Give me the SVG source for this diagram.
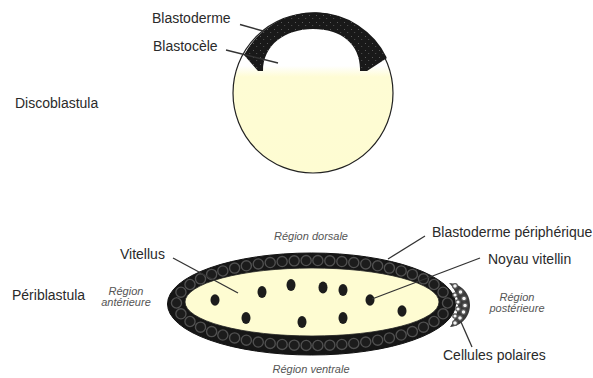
<svg xmlns="http://www.w3.org/2000/svg" width="593" height="378" viewBox="0 0 593 378">
  <defs>
    <style>
      .lbl { font-family: "Liberation Sans", Arial, sans-serif; font-size: 14px; fill: #2a2a2a; }
      .reg { font-family: "Liberation Sans", Arial, sans-serif; font-size: 11px; font-style: italic; fill: #555; }
      .lead { stroke: #333; stroke-width: 1.3; fill: none; }
      .nuc { fill: #1c1c1c; }
      .pole { fill: #f4f4f4; stroke: #555; stroke-width: 1.2; }
    </style>
    <!-- speckled texture for the blastoderm cap -->
    <pattern id="speck" width="7" height="7" patternUnits="userSpaceOnUse">
      <rect width="7" height="7" fill="#191919"/>
      <rect x="1" y="1" width="1" height="1" fill="#5a5a5a"/>
      <rect x="4" y="4" width="1.2" height="1" fill="#4a4a4a"/>
    </pattern>
    <!-- yolk below the blastocoel cavity -->
    <linearGradient id="yolk" x1="0" y1="13" x2="0" y2="173" gradientUnits="userSpaceOnUse">
      <stop offset="0" stop-color="#ffffff"/>
      <stop offset="0.33" stop-color="#ffffff"/>
      <stop offset="0.4" stop-color="#fefcd4"/>
      <stop offset="1" stop-color="#fefcd2"/>
    </linearGradient>
  </defs>

  <rect width="593" height="378" fill="#ffffff"/>

  <!-- Discoblastula -->
  <g id="discoblastula">
    <circle cx="313" cy="93" r="80" fill="url(#yolk)" stroke="#222" stroke-width="1.2"/>
    <path d="M 258,71 L 244,55 A 80 80 0 0 1 387,58 L 367,71 L 360,71 C 361,45 342,29 313,29 C 285,29 263,45 263,71 Z" fill="url(#speck)"/>
  </g>

  <!-- Periblastula -->
  <g id="periblastula">
    <ellipse cx="311.5" cy="304" rx="144" ry="51" fill="#161616" stroke="#111" stroke-width="1"/>
    <!-- ring of peripheral blastoderm cells -->
    <path d="M 176.5,303 A 135.5 42.5 0 1 1 447.5,303 A 135.5 42.5 0 1 1 176.5,303 Z" pathLength="600" fill="none" stroke="#505050" stroke-width="11.5" stroke-linecap="round" stroke-dasharray="0 12"/>
    <path d="M 176.5,303 A 135.5 42.5 0 1 1 447.5,303 A 135.5 42.5 0 1 1 176.5,303 Z" pathLength="600" fill="none" stroke="#1c1c1c" stroke-width="8.8" stroke-linecap="round" stroke-dasharray="0 12"/>
    <ellipse cx="312" cy="302" rx="127" ry="34" fill="#fefcd2" stroke="#222" stroke-width="0.8"/>
    <!-- yolk nuclei -->
    <ellipse class="nuc" cx="215" cy="300" rx="4.5" ry="5.8"/>
    <ellipse class="nuc" cx="262" cy="292" rx="4.5" ry="6"/>
    <ellipse class="nuc" cx="291" cy="285" rx="4.5" ry="6"/>
    <ellipse class="nuc" cx="323" cy="287.5" rx="4.5" ry="6"/>
    <ellipse class="nuc" cx="343" cy="290" rx="4.5" ry="6"/>
    <ellipse class="nuc" cx="370" cy="300" rx="4.5" ry="5.8"/>
    <ellipse class="nuc" cx="402" cy="311" rx="4.5" ry="5.8"/>
    <ellipse class="nuc" cx="246" cy="318" rx="4.5" ry="6"/>
    <ellipse class="nuc" cx="302" cy="322" rx="4.5" ry="6"/>
    <ellipse class="nuc" cx="343" cy="318" rx="4.5" ry="6"/>
  </g>

  <!-- Pole cells -->
  <g id="cellules-polaires">
    <path d="M 449,283 C 462,284 470,294 470,305 C 470,316 462,326 450,327 C 456,318 458,311 458,304 C 458,297 455,289 449,283 Z" fill="#3a3a3a"/>
    <circle class="pole" cx="455" cy="286" r="2.4"/>
    <circle class="pole" cx="460.5" cy="292" r="2.4"/>
    <circle class="pole" cx="464" cy="298.5" r="2.4"/>
    <circle class="pole" cx="465" cy="305.5" r="2.4"/>
    <circle class="pole" cx="463.5" cy="312" r="2.4"/>
    <circle class="pole" cx="460" cy="318" r="2.4"/>
    <circle class="pole" cx="455" cy="323" r="2.4"/>
    <circle class="pole" cx="455" cy="295" r="2.2"/>
    <circle class="pole" cx="458" cy="302" r="2.2"/>
    <circle class="pole" cx="458" cy="309" r="2.2"/>
    <circle class="pole" cx="455" cy="316" r="2.2"/>
  </g>

  <!-- Leader lines -->
  <g id="connectors">
    <line class="lead" x1="240" y1="24.5" x2="263" y2="31"/>
    <line class="lead" x1="226" y1="50" x2="278" y2="63"/>
    <line class="lead" x1="173" y1="258" x2="238" y2="293"/>
    <line class="lead" x1="425" y1="236" x2="388" y2="259"/>
    <line class="lead" x1="480" y1="258" x2="372" y2="299"/>
    <line class="lead" x1="472" y1="347" x2="461" y2="322"/>
  </g>

  <!-- Labels -->
  <g id="labels">
    <text class="lbl" x="152" y="23">Blastoderme</text>
    <text class="lbl" x="153" y="51">Blastocèle</text>
    <text class="lbl" x="15" y="108">Discoblastula</text>
    <text class="lbl" x="12" y="300">Périblastula</text>
    <text class="lbl" x="120" y="259">Vitellus</text>
    <text class="lbl" x="432" y="237">Blastoderme périphérique</text>
    <text class="lbl" x="488" y="264">Noyau vitellin</text>
    <text class="lbl" x="443" y="360">Cellules polaires</text>
    <text class="reg" x="311" y="240" text-anchor="middle">Région dorsale</text>
    <text class="reg" x="311" y="373" text-anchor="middle">Région ventrale</text>
    <text class="reg" x="126" y="295" text-anchor="middle">Région</text>
    <text class="reg" x="126" y="306" text-anchor="middle">antérieure</text>
    <text class="reg" x="517" y="301" text-anchor="middle">Région</text>
    <text class="reg" x="517" y="312" text-anchor="middle">postérieure</text>
  </g>
</svg>
